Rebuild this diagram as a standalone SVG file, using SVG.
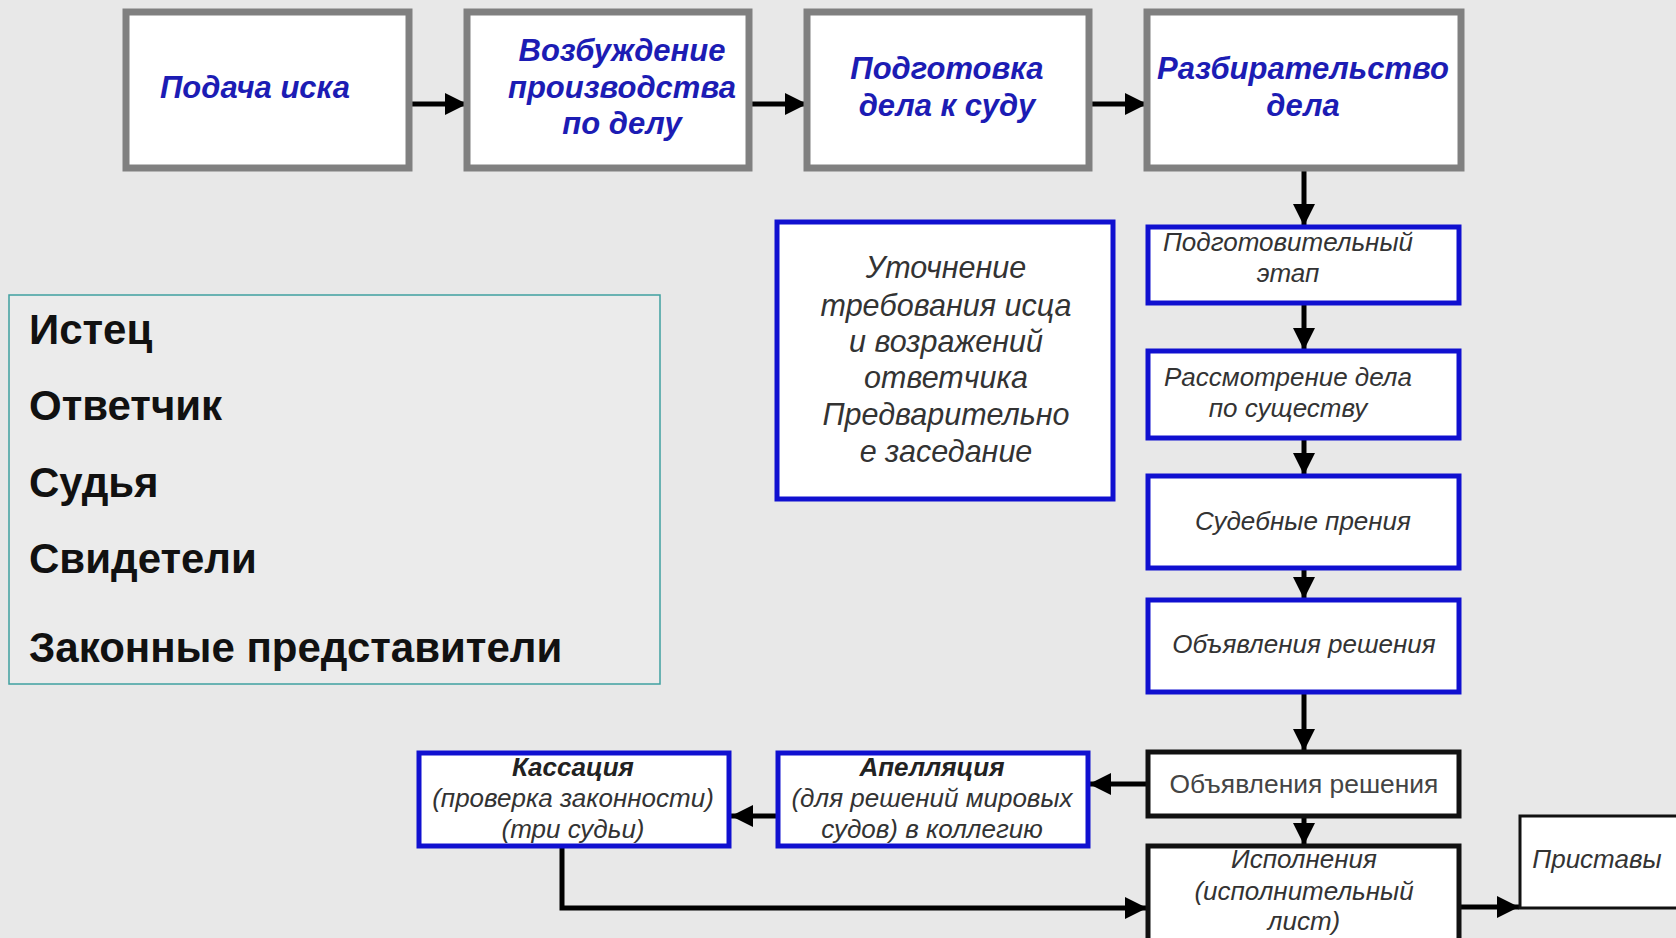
<svg xmlns="http://www.w3.org/2000/svg" width="1676" height="938" viewBox="0 0 1676 938">
<style>
.bg{fill:#e8e8e8}
.gbox{fill:#ffffff;stroke:#808080;stroke-width:7}
.bbox{fill:#ffffff;stroke:#1010d0;stroke-width:5}
.kbox{fill:#ffffff;stroke:#111111;stroke-width:5}
.t1{font-family:"Liberation Sans",Arial,sans-serif;font-size:31px;font-weight:bold;font-style:italic;fill:#1c1cb4;text-anchor:middle}
.t2{font-family:"Liberation Sans",Arial,sans-serif;font-size:26px;font-style:italic;fill:#333333;text-anchor:middle}
.t2b{font-weight:bold;fill:#222222}
.t3{font-family:"Liberation Sans",Arial,sans-serif;font-size:30.5px;font-style:italic;fill:#333333;text-anchor:middle}
.t4{font-family:"Liberation Sans",Arial,sans-serif;font-size:26.4px;fill:#444444;text-anchor:middle}
.lg{font-family:"Liberation Sans",Arial,sans-serif;font-size:42px;font-weight:bold;fill:#111111}
.con{fill:none;stroke:#000000;stroke-width:5}
</style>
<defs>
<marker id="ah" markerUnits="userSpaceOnUse" markerWidth="24" markerHeight="24" refX="22" refY="11" orient="auto">
<path d="M0,0 L22,11 L0,22 z" fill="#000000"/>
</marker>
</defs>
<rect class="bg" x="0" y="0" width="1676" height="938"/>

<g id="legend">
<rect x="9" y="295" width="651" height="389" fill="#ebebeb" stroke="#3fa0a0" stroke-width="1.5"/>
<text class="lg" x="29" y="344">Истец</text>
<text class="lg" x="29" y="420">Ответчик</text>
<text class="lg" x="29" y="497">Судья</text>
<text class="lg" x="29" y="573">Свидетели</text>
<text class="lg" x="29" y="662">Законные представители</text>
</g>

<g id="connectors">
<line class="con" x1="409" y1="104" x2="467" y2="104" marker-end="url(#ah)"/>
<line class="con" x1="749" y1="104" x2="807" y2="104" marker-end="url(#ah)"/>
<line class="con" x1="1089" y1="104" x2="1147" y2="104" marker-end="url(#ah)"/>
<line class="con" x1="1304" y1="168" x2="1304" y2="226" marker-end="url(#ah)"/>
<line class="con" x1="1304" y1="287" x2="1304" y2="350" marker-end="url(#ah)"/>
<line class="con" x1="1304" y1="439" x2="1304" y2="475" marker-end="url(#ah)"/>
<line class="con" x1="1304" y1="569" x2="1304" y2="599" marker-end="url(#ah)"/>
<line class="con" x1="1304" y1="693" x2="1304" y2="751" marker-end="url(#ah)"/>
<line class="con" x1="1304" y1="817" x2="1304" y2="845" marker-end="url(#ah)"/>
<line class="con" x1="1460" y1="907" x2="1519" y2="907" marker-end="url(#ah)"/>
<line class="con" x1="1147" y1="784" x2="1089" y2="784" marker-end="url(#ah)"/>
<line class="con" x1="777" y1="816" x2="731" y2="816" marker-end="url(#ah)"/>
<polyline class="con" points="562,847 562,908 1147,908" marker-end="url(#ah)"/>
</g>

<g id="n1">
<rect class="gbox" x="126" y="12" width="283" height="156"/>
<text class="t1" x="255" y="98">Подача иска</text>
</g>
<g id="n2">
<rect class="gbox" x="467" y="12" width="282" height="156"/>
<text class="t1" x="622" y="61">Возбуждение</text>
<text class="t1" x="622" y="98">производства</text>
<text class="t1" x="622" y="134">по делу</text>
</g>
<g id="n3">
<rect class="gbox" x="807" y="12" width="282" height="156"/>
<text class="t1" x="947" y="79">Подготовка</text>
<text class="t1" x="947" y="116">дела к суду</text>
</g>
<g id="n4">
<rect class="gbox" x="1147" y="12" width="314" height="156"/>
<text class="t1" x="1303" y="79">Разбирательство</text>
<text class="t1" x="1303" y="116">дела</text>
</g>

<g id="n5">
<rect class="bbox" x="777" y="222" width="336" height="277" stroke-width="7"/>
<text class="t3" x="946" y="278">Уточнение</text>
<text class="t3" x="946" y="316">требования исца</text>
<text class="t3" x="946" y="352">и возражений</text>
<text class="t3" x="946" y="388">ответчика</text>
<text class="t3" x="946" y="425">Предварительно</text>
<text class="t3" x="946" y="462">е заседание</text>
</g>

<g id="n6">
<rect class="bbox" x="1148" y="227" width="311" height="76"/>
<text class="t2" x="1288" y="251">Подготовительный</text>
<text class="t2" x="1288" y="282">этап</text>
</g>
<g id="n7">
<rect class="bbox" x="1148" y="351" width="311" height="87"/>
<text class="t2" x="1288" y="386">Рассмотрение дела</text>
<text class="t2" x="1288" y="417">по существу</text>
</g>
<g id="n8">
<rect class="bbox" x="1148" y="476" width="311" height="92"/>
<text class="t2" x="1303" y="530">Судебные прения</text>
</g>
<g id="n9">
<rect class="bbox" x="1148" y="600" width="311" height="92"/>
<text class="t2" x="1304" y="653">Объявления решения</text>
</g>
<g id="n10">
<rect class="kbox" x="1148" y="752" width="311" height="64" fill="#e4e4e4"/>
<text class="t4" x="1304" y="793">Объявления решения</text>
</g>
<g id="n11">
<rect class="kbox" x="1148" y="846" width="311" height="100"/>
<text class="t2" x="1304" y="868">Исполнения</text>
<text class="t2" x="1304" y="900">(исполнительный</text>
<text class="t2" x="1304" y="930">лист)</text>
</g>
<g id="n12">
<rect x="1520" y="816" width="160" height="92" fill="#ffffff" stroke="#111111" stroke-width="3"/>
<text class="t2" x="1597" y="868">Приставы</text>
</g>
<g id="n13">
<rect class="bbox" x="778" y="753" width="310" height="93"/>
<text class="t2 t2b" x="932" y="776">Апелляция</text>
<text class="t2" x="932" y="807">(для решений мировых</text>
<text class="t2" x="932" y="838">судов) в коллегию</text>
</g>
<g id="n14">
<rect class="bbox" x="419" y="753" width="310" height="93"/>
<text class="t2 t2b" x="573" y="776">Кассация</text>
<text class="t2" x="573" y="807">(проверка законности)</text>
<text class="t2" x="573" y="838">(три судьи)</text>
</g>
</svg>
